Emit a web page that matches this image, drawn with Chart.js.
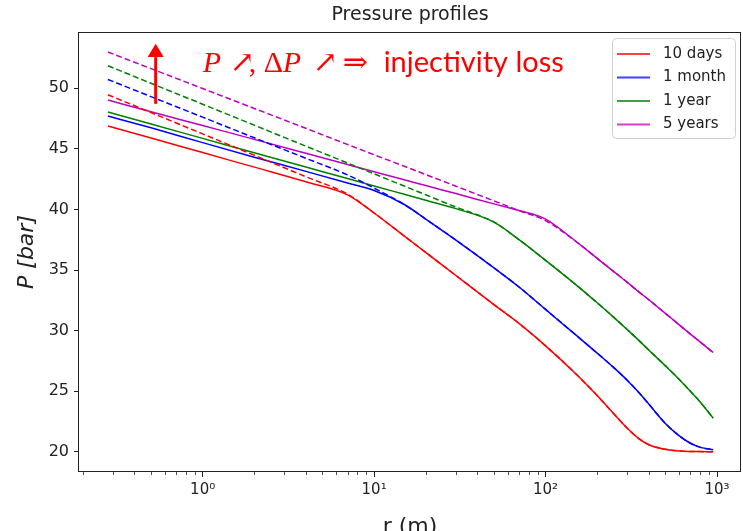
<!DOCTYPE html>
<html>
<head>
<meta charset="utf-8">
<script src="https://cdn.jsdelivr.net/npm/chart.js@4.4.1/dist/chart.umd.min.js"></script>
<style>
  html, body { margin: 0; padding: 0; overflow: hidden; background: #fff; }
  #caixa { width: 743px; height: 545px; }
</style>
</head>
<body>
<div id="caixa"><canvas id="grafico" width="743" height="545"></canvas></div>
<script>
// Raios (m) onde as curvas foram lidas
const raio = [0.28, 0.5, 1, 2, 4, 7, 10, 15, 20, 30, 50, 70, 100, 150, 200, 250, 300, 350, 400, 500, 600, 700, 800, 950];

// Pressões (bar) - linhas cheias
const p10dias  = [46.87, 45.89, 44.68, 43.48, 42.27, 41.2, 39.7, 37.8, 36.45, 34.55, 32.15, 30.6, 28.75, 26.45, 24.65, 23.15, 21.95, 21.1, 20.6, 20.22, 20.08, 20.04, 20.03, 20.02];
const p1mes    = [47.69, 46.72, 45.5, 44.3, 43.13, 42.17, 41.55, 40.4, 39.2, 37.47, 35.18, 33.6, 31.75, 29.65, 28.15, 26.95, 25.9, 24.9, 23.95, 22.35, 21.35, 20.72, 20.38, 20.18];
const p1ano    = [48.02, 47.03, 45.85, 44.67, 43.49, 42.54, 41.93, 41.24, 40.75, 40.06, 38.95, 37.5, 35.8, 33.8, 32.3, 31.1, 30.08, 29.2, 28.4, 27.1, 26.0, 25.0, 24.1, 22.79];
const p5anos   = [49.01, 48.05, 46.91, 45.77, 44.62, 43.69, 43.1, 42.44, 41.96, 41.3, 40.45, 39.9, 39.2, 37.37, 35.96, 34.87, 33.98, 33.2, 32.55, 31.42, 30.5, 29.72, 29.05, 28.2];

// Pressões (bar) - linhas tracejadas
const p10diasT = [49.45, 47.98, 46.22, 44.46, 42.69, 41.25, 39.7, 37.8, 36.45, 34.55, 32.15, 30.6, 28.75, 26.45, 24.65, 23.15, 21.95, 21.1, 20.6, 20.22, 20.08, 20.04, 20.03, 20.02];
const p1mesT   = [50.71, 49.29, 47.6, 45.9, 44.21, 42.84, 41.75, 40.4, 39.2, 37.47, 35.18, 33.6, 31.75, 29.65, 28.15, 26.95, 25.9, 24.9, 23.95, 22.35, 21.35, 20.72, 20.38, 20.18];
const p1anoT   = [51.84, 50.39, 48.67, 46.94, 45.21, 43.82, 42.93, 41.92, 41.2, 40.19, 38.95, 37.5, 35.8, 33.8, 32.3, 31.1, 30.08, 29.2, 28.4, 27.1, 26.0, 25.0, 24.1, 22.79];
const p5anosT  = [52.97, 51.6, 49.96, 48.32, 46.68, 45.35, 44.5, 43.55, 42.87, 41.91, 40.7, 39.9, 39.07, 37.37, 35.96, 34.87, 33.98, 33.2, 32.55, 31.42, 30.5, 29.72, 29.05, 28.2];

const rotulos = ['10 days', '1 month', '1 year', '5 years'];
const cores = ['#ff0000', '#0000ff', '#008000', '#bf00bf'];
const cheias = [p10dias, p1mes, p1ano, p5anos];
const tracejadas = [p10diasT, p1mesT, p1anoT, p5anosT];

// Ticks dos eixos
const ticksX = [1, 10, 100, 1000];
const rotulosX = ['10\u2070', '10\u00b9', '10\u00b2', '10\u00b3'];
const ticksY = [20, 25, 30, 35, 40, 45, 50];

const fonte = 'DejaVu Sans';

function pontos(valores) {
    return raio.map((r, i) => ({ x: r, y: valores[i] }));
}

const conjuntos = [];
cheias.forEach((valores, i) => {
    conjuntos.push({
        label: rotulos[i],
        data: pontos(valores),
        borderColor: cores[i],
        borderWidth: 1.5,
        pointRadius: 0,
        cubicInterpolationMode: 'monotone',
        fill: false
    });
    conjuntos.push({
        label: '',
        data: pontos(tracejadas[i]),
        borderColor: cores[i],
        borderWidth: 1.5,
        borderDash: [6, 3],
        pointRadius: 0,
        cubicInterpolationMode: 'monotone',
        fill: false
    });
});

// Moldura, ticks menores, seta, texto e legenda
const extras = {
    id: 'extras',
    afterDraw(chart) {
        const c = chart.ctx;
        const a = chart.chartArea;
        const sx = chart.scales.x;
        const sy = chart.scales.y;
        c.save();

        // moldura
        c.strokeStyle = '#222';
        c.lineWidth = 1;
        c.strokeRect(Math.round(a.left) - 0.5, Math.round(a.top) + 0.5, Math.round(a.right - a.left), Math.round(a.bottom - a.top) - 1);

        // ticks menores do eixo log
        c.lineWidth = 0.8;
        [0.1, 1, 10, 100, 1000].forEach(d => {
            for (let k = 2; k <= 9; k++) {
                const v = k * d;
                if (v < sx.min || v > sx.max) continue;
                const px = Math.round(sx.getPixelForValue(v)) + 0.5;
                c.beginPath();
                c.moveTo(px, a.bottom);
                c.lineTo(px, a.bottom + 3);
                c.stroke();
            }
        });

        // seta vermelha
        const xa = sx.getPixelForValue(0.532);
        const yBase = sy.getPixelForValue(48.7);
        const yCab = sy.getPixelForValue(52.55);
        const yPonta = sy.getPixelForValue(53.65);
        c.strokeStyle = '#ff0000';
        c.fillStyle = '#ff0000';
        c.lineWidth = 3;
        c.beginPath();
        c.moveTo(xa, yBase);
        c.lineTo(xa, yCab);
        c.stroke();
        c.beginPath();
        c.moveTo(xa - 8, yCab);
        c.lineTo(xa + 8, yCab);
        c.lineTo(xa, yPonta);
        c.closePath();
        c.fill();

        // anotação: pedaço, itálico?, deslocamento a partir de r = 1
        const x0 = sx.getPixelForValue(1);
        const yt = sy.getPixelForValue(51.3);
        c.textBaseline = 'alphabetic';
        c.textAlign = 'left';
        const pedacos = [
            ['P', true, 0], ['\u2197', false, 27], [',', false, 46],
            ['\u0394', false, 61], ['P', true, 80], ['\u2197', false, 110], ['\u21d2', false, 140]
        ];
        pedacos.forEach(([t, ital, dx]) => {
            c.font = (ital ? 'italic ' : '') + '30px "Liberation Serif", "DejaVu Serif", serif';
            c.fillText(t, x0 + dx, yt);
        });
        c.font = '29px Lato, "Liberation Sans", sans-serif';
        c.fillText('injectivity loss', x0 + 181, yt);

        // legenda
        const lx = a.right - 129;
        const ly = a.top + 6;
        c.fillStyle = 'rgba(255,255,255,0.8)';
        c.strokeStyle = '#d0d0d0';
        c.lineWidth = 1;
        c.beginPath();
        c.roundRect(lx + 0.5, ly + 0.5, 123, 100, 4);
        c.fill();
        c.stroke();
        c.font = '15px "' + fonte + '"';
        c.textBaseline = 'middle';
        rotulos.forEach((t, i) => {
            const yy = ly + 16 + i * 23.5;
            c.strokeStyle = cores[i];
            c.globalAlpha = 0.75;
            c.lineWidth = 2;
            c.beginPath();
            c.moveTo(lx + 5, yy);
            c.lineTo(lx + 38, yy);
            c.stroke();
            c.globalAlpha = 1;
            c.fillStyle = '#222';
            c.fillText(t, lx + 51, yy);
        });
        c.restore();
    }
};

const ctx = document.getElementById('grafico').getContext('2d');
const grafico = new Chart(ctx, {
    type: 'line',
    data: { datasets: conjuntos },
    options: {
        responsive: false,
        animation: false,
        layout: { padding: { left: 0, right: 2, top: 0, bottom: 0 } },
        plugins: {
            legend: { display: false },
            tooltip: { enabled: false },
            title: {
                display: true,
                fullSize: false,
                text: 'Pressure profiles',
                color: '#222',
                font: { family: fonte, size: 19, weight: 'normal' },
                padding: { top: 4, bottom: 5.2 }
            }
        },
        scales: {
            x: {
                type: 'logarithmic',
                min: 0.19,
                max: 1380,
                afterBuildTicks: (s) => { s.ticks = ticksX.map(v => ({ value: v, major: true })); },
                afterFit: (s) => { s.height = 73; },
                ticks: {
                    autoSkip: false,
                    maxRotation: 0,
                    padding: 4,
                    color: '#222',
                    font: { family: fonte, size: 15 },
                    callback: (valor, i) => rotulosX[i]
                },
                grid: { drawOnChartArea: false, tickLength: 5, tickColor: '#222' },
                border: { display: false },
                title: {
                    display: true,
                    text: 'r (m)',
                    color: '#222',
                    font: { family: fonte, size: 22 },
                    padding: { top: 0, bottom: 5 }
                }
            },
            y: {
                min: 18.35,
                max: 54.62,
                afterBuildTicks: (s) => { s.ticks = ticksY.map(v => ({ value: v })); },
                afterFit: (s) => { s.width = 79; },
                ticks: {
                    padding: 5,
                    color: '#222',
                    font: { family: fonte, size: 16 }
                },
                grid: { drawOnChartArea: false, tickLength: 5, tickColor: '#222' },
                border: { display: false },
                title: {
                    display: true,
                    text: 'P [bar]',
                    color: '#222',
                    font: { family: fonte, size: 22, style: 'italic' },
                    padding: { top: 14, bottom: 0 }
                }
            }
        }
    },
    plugins: [extras]
});
</script>
</body>
</html>
